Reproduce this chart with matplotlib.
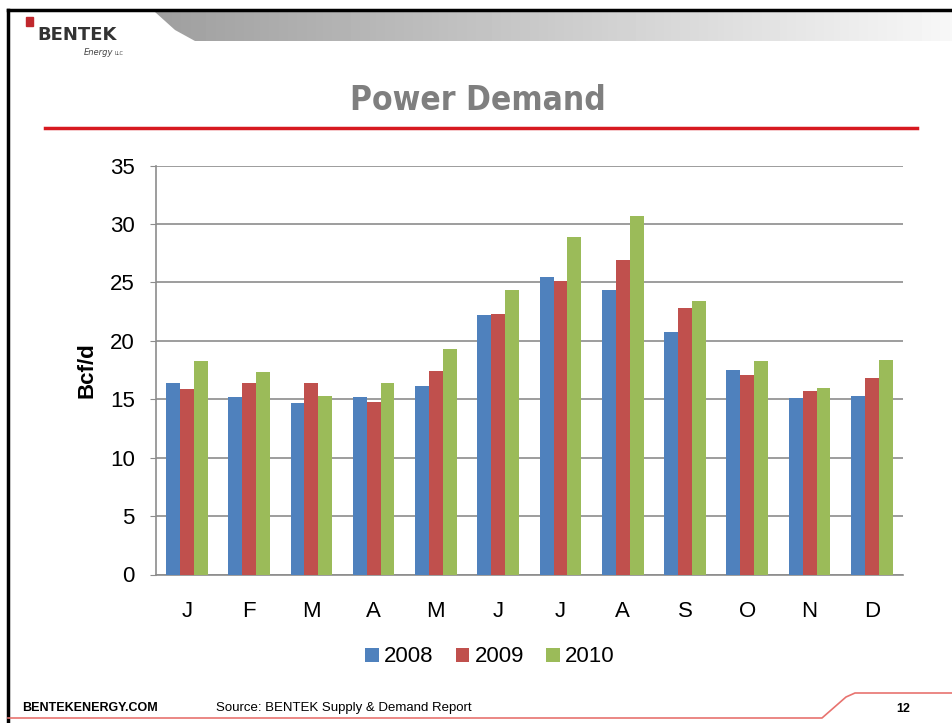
import numpy as np
import matplotlib.pyplot as plt
from matplotlib.patches import Polygon, Rectangle
from matplotlib.lines import Line2D

# data (Bcf/d)
months = ['J', 'F', 'M', 'A', 'M', 'J', 'J', 'A', 'S', 'O', 'N', 'D']
years = ['2008', '2009', '2010']
d2008 = [16.4, 15.2, 14.7, 15.2, 16.1, 22.2, 25.5, 24.4, 20.8, 17.5, 15.1, 15.3]
d2009 = [15.9, 16.4, 16.4, 14.8, 17.4, 22.3, 25.1, 26.9, 22.8, 17.1, 15.7, 16.8]
d2010 = [18.3, 17.3, 15.3, 16.4, 19.3, 24.4, 28.9, 30.7, 23.4, 18.3, 16.0, 18.4]
colors = ['#4f81bd', '#c0504d', '#9bbb59']

W, H = 953, 723
fig = plt.figure(figsize=(W / 100, H / 100), dpi=100)
fig.patch.set_facecolor('white')

# full-figure overlay in pixel coords (y down)
bg = fig.add_axes([0, 0, 1, 1], zorder=0)
bg.set_xlim(0, W)
bg.set_ylim(H, 0)
bg.axis('off')

# header band with gradient
grad = np.linspace(0.62, 0.97, 256).reshape(1, -1)
im = bg.imshow(grad, cmap='gray', vmin=0, vmax=1, aspect='auto',
               extent=[150, W, 41, 12], zorder=1)
band = Polygon([[155, 12], [W, 12], [W, 41], [195, 41], [175, 30]],
               closed=True, transform=bg.transData, facecolor='none', edgecolor='none')
bg.add_patch(band)
im.set_clip_path(band)

# slide frame
bg.add_line(Line2D([8, W], [10, 10], color='black', lw=2.5, zorder=3))
bg.add_line(Line2D([8, 8], [10, H], color='black', lw=2.5, zorder=3))

# logo
bg.add_patch(Rectangle((26, 17), 7, 9, color='#c0282d', zorder=3))
bg.text(37, 40, 'BENTEK', fontsize=13, fontweight='bold', color='#333333',
        family='DejaVu Sans', va='baseline', zorder=3)
bg.text(84, 55, 'Energy', fontsize=6, style='italic', color='#444444',
        va='baseline', zorder=3)
bg.text(115, 55, 'LLC', fontsize=3.5, color='#444444', va='baseline', zorder=3)

# title and red rule
bg.text(478, 100, 'Power Demand', fontsize=24, fontweight='bold', color='#7f7f7f',
        family='DejaVu Sans', stretch='condensed', ha='center', va='center', zorder=3)
bg.add_line(Line2D([45, 917], [128, 128], color='#d71920', lw=2.5, zorder=3))

# footer
bg.text(22, 708, 'BENTEKENERGY.COM', fontsize=9, fontweight='bold',
        family='Liberation Sans', va='center', zorder=3)
bg.text(216, 708, 'Source: BENTEK Supply & Demand Report', fontsize=9.5,
        family='Liberation Sans', va='center', zorder=3)
bg.text(903, 709, '12', fontsize=9, fontweight='bold', family='Liberation Sans',
        ha='center', va='center', zorder=3)
bg.add_line(Line2D([8, 822, 846, 855, W], [718, 718, 697, 693, 693],
                   color='#e8736f', lw=1.2, zorder=3))

# chart
ax = fig.add_axes([155.7 / W, 1 - 574.5 / H, (903 - 155.7) / W, (574.5 - 165.7) / H], zorder=2)
ax.patch.set_alpha(0)
x = np.arange(len(months))
bw = 0.223
for i, (vals, yr) in enumerate(zip([d2008, d2009, d2010], years)):
    ax.bar(x + (i - 1) * bw, vals, bw, color=colors[i], label=yr, zorder=3)

ax.set_xlim(-0.5, len(months) - 0.5)
ax.set_ylim(0, 35)
ax.set_yticks(np.arange(0, 36, 5))
ax.set_xticks(x)
ax.set_xticklabels(months)
ax.yaxis.grid(True, color='#8c8c8c', lw=1.2)
ax.set_axisbelow(True)
for s in ['top', 'right']:
    ax.spines[s].set_visible(False)
ax.spines['left'].set_color('#8c8c8c')
ax.spines['bottom'].set_color('#8c8c8c')
ax.spines['left'].set_linewidth(1.2)
ax.spines['bottom'].set_linewidth(1.2)
ax.tick_params(axis='x', length=0, pad=19, labelsize=16)
ax.tick_params(axis='y', length=4, color='#8c8c8c', pad=11, labelsize=16)
for lbl in ax.get_xticklabels() + ax.get_yticklabels():
    lbl.set_family('Liberation Sans')
ax.set_ylabel('Bcf/d', fontsize=16, fontweight='bold', family='Liberation Sans', labelpad=9)

ax.legend(loc='center', bbox_to_anchor=(490 / W, 1 - 657 / H), bbox_transform=fig.transFigure,
          ncol=3, frameon=False, handlelength=0.6, handleheight=0.6, handletextpad=0.25,
          columnspacing=1.0, prop={'family': 'Liberation Sans', 'size': 16})

plt.savefig('out.png', dpi=100)
